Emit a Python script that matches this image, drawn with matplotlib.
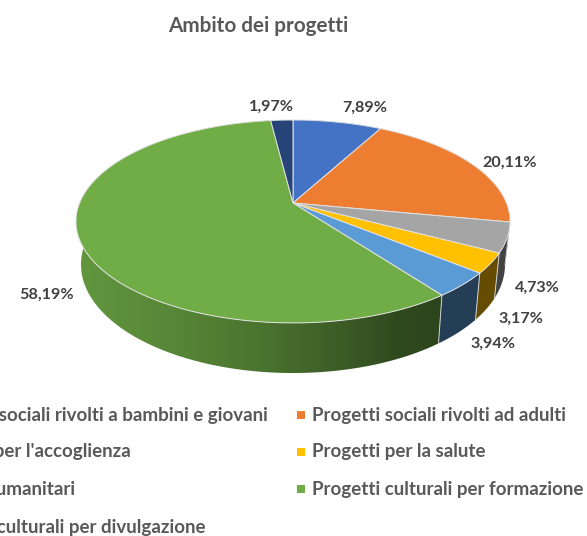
# -*- coding: utf-8 -*-
"""Torta 3D in prospettiva: ambito dei progetti."""

import matplotlib
matplotlib.use("Agg")
import matplotlib.pyplot as plt
import numpy as np
from matplotlib.colors import to_rgb
from matplotlib.patches import Polygon

plt.rcParams["font.family"] = ["Lato", "DejaVu Sans"]

categorie = [
    "Progetti sociali rivolti a bambini e giovani",
    "Progetti sociali rivolti ad adulti",
    "Progetti per l'accoglienza",
    "Progetti per la salute",
    "Progetti umanitari",
    "Progetti culturali per formazione",
    "Progetti culturali per divulgazione",
]
valori = [7.89, 20.11, 4.73, 3.17, 3.94, 58.19, 1.97]
etichette = ["7,89%", "20,11%", "4,73%", "3,17%", "3,94%", "58,19%", "1,97%"]
colori = ["#4472C4", "#ED7D31", "#A5A5A5", "#FFC000", "#5B9BD5", "#70AD47", "#264478"]

# posizione delle etichette in pixel
etichette_xy = [(365, 108), (510, 163), (537, 288), (521, 319), (493, 344), (47, 295), (271, 107)]

# geometria della torta (pixel)
CX, CY = 293, 203
K, A, B = 0.182, 98.1, 213.4
ELL_Y = 221.5
BASE_Y, BASE_SX, BASE_SY = 264.5, 0.977, 1.07

# luminosita' del bordo laterale in funzione di x
luce_x = [77, 170, 260, 350, 400, 442, 520]
luce_v = [0.87, 0.78, 0.67, 0.52, 0.42, 0.40, 0.40]


def rim_top(theta):
    """Angolo (da ore 12, senso orario) -> punto sul bordo superiore."""
    w = 1 + K * np.cos(theta)
    return CX + B * np.sin(theta) / w, CY - A * np.cos(theta) / w


def rim_bottom(theta):
    x, y = rim_top(theta)
    return CX + (x - CX) * BASE_SX, BASE_Y + (y - ELL_Y) * BASE_SY


def wall_gradient(ax, poly_xy, colore, zorder):
    """Bordo laterale con sfumatura orizzontale, ritagliato sul poligono."""
    x0, x1 = poly_xy[:, 0].min(), poly_xy[:, 0].max()
    y0, y1 = poly_xy[:, 1].min(), poly_xy[:, 1].max()
    xs = np.linspace(x0, x1, 64)
    base = np.array(to_rgb(colore))
    shade = np.interp(xs, luce_x, luce_v)
    img = np.clip(shade[:, None] * base, 0, 1)[None, :, :]
    im = ax.imshow(img, extent=(x0, x1, y1, y0), aspect="auto", zorder=zorder,
                   interpolation="bilinear")
    patch = Polygon(poly_xy, closed=True, transform=ax.transData)
    im.set_clip_path(patch)


fig = plt.figure(figsize=(5.87, 5.36), dpi=100)
ax = fig.add_axes([0, 0, 1, 1])

bordi = np.cumsum([0] + valori) / sum(valori) * 2 * np.pi

# prima i lati, poi le facce superiori sopra
for i, colore in enumerate(colori):
    t = np.linspace(bordi[i], bordi[i + 1], 120)
    top = np.column_stack(rim_top(t))
    bot = np.column_stack(rim_bottom(t))
    wall = np.vstack([top, bot[::-1]])
    wall_gradient(ax, wall, colore, 2)
    # solo le linee verticali tra uno spicchio e l'altro
    ax.plot([top[0, 0], bot[0, 0]], [top[0, 1], bot[0, 1]], color="#d0d0d0", lw=0.7, zorder=3)

for i, colore in enumerate(colori):
    t = np.linspace(bordi[i], bordi[i + 1], 120)
    top = np.column_stack(rim_top(t))
    face = np.vstack([[CX, CY], top])
    ax.add_patch(Polygon(face, closed=True, fc=colore, ec="#e2e2e2", lw=0.7, zorder=4))

for testo, (x, y) in zip(etichette, etichette_xy):
    ax.text(x, y, testo, ha="center", va="center", fontsize=11.6, fontweight="bold",
            color="#404040", zorder=5)

ax.text(258, 26, "Ambito dei progetti", ha="center", va="center", fontsize=14.9,
        fontweight="bold", color="#595959")

# legenda: la colonna sinistra e' tagliata dal bordo dell'immagine
righe_y = [415, 452, 489, 528]
fine_sx = [268, 131, 75, 205]
for j, i in enumerate([0, 2, 4, 6]):
    ax.text(fine_sx[j], righe_y[j], categorie[i], ha="right", va="center", fontsize=13.5,
            fontweight="bold", color="#595959")
for j, i in enumerate([1, 3, 5]):
    ax.scatter([301], [righe_y[j]], marker="s", s=34, color=colori[i], linewidths=0)
    ax.text(312, righe_y[j], categorie[i], ha="left", va="center", fontsize=13.5,
            fontweight="bold", color="#595959")

ax.set_xlim(0, 587)
ax.set_ylim(536, 0)
ax.axis("off")

fig.savefig("out.png", dpi=100)
